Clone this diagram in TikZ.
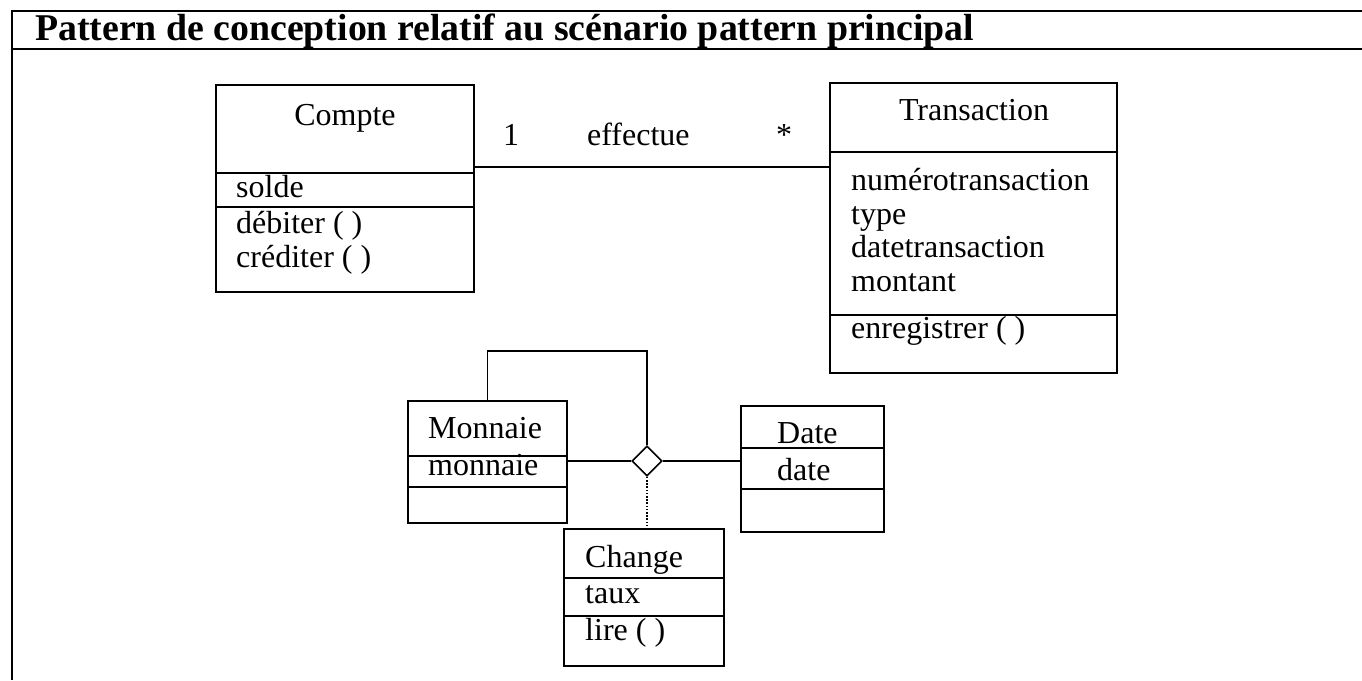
\documentclass[tikz,border=0pt]{standalone}
\usepackage{fontspec}
\setmainfont{Liberation Serif}
\usetikzlibrary{positioning,shapes.geometric}

\begin{document}
\begin{tikzpicture}[x=1pt, y=-1pt,
        classbox/.style={draw, line width=1.6pt, inner sep=0pt, anchor=north west},
        member/.style={anchor=base west, inner sep=0pt, font=\fontsize{32}{34}\selectfont},
        classname/.style={member, anchor=base},
        rule/.style={line width=1.6pt},
        link/.style={line width=1.6pt},
        frame/.style={line width=1.8pt}
]
    \useasboundingbox (0,0) rectangle (1362,680);
    \draw[frame] (1362,11) -- (12,11) -- (12,680);
    \draw[frame] (12,49) -- (1362,49);
    \node[anchor=base west, inner sep=0pt, font=\fontsize{37.8}{42}\selectfont\bfseries] (titre) at (35,40)
        {Pattern de conception relatif au scénario pattern principal};

    \node[classbox, minimum width=258pt, minimum height=207pt] (compte) at (215,84) {};
    \node[classbox, minimum width=287pt, minimum height=290pt] (transaction) at (829,82) {};
    \node[classbox, minimum width=159pt, minimum height=122pt] (monnaie) at (407,400) {};
    \node[classbox, minimum width=143pt, minimum height=126pt] (date) at (740,405) {};
    \node[classbox, minimum width=160pt, minimum height=137pt] (change) at (563,528) {};

    \draw[rule] (compte.west |- 0,173) -- (compte.east |- 0,173);
    \draw[rule] (compte.west |- 0,207) -- (compte.east |- 0,207);
    \draw[rule] (transaction.west |- 0,152) -- (transaction.east |- 0,152);
    \draw[rule] (transaction.west |- 0,315) -- (transaction.east |- 0,315);
    \draw[rule] (monnaie.west |- 0,456) -- (monnaie.east |- 0,456);
    \draw[rule] (monnaie.west |- 0,487) -- (monnaie.east |- 0,487);
    \draw[rule] (date.west |- 0,448) -- (date.east |- 0,448);
    \draw[rule] (date.west |- 0,489) -- (date.east |- 0,489);
    \draw[rule] (change.west |- 0,578) -- (change.east |- 0,578);
    \draw[rule] (change.west |- 0,616) -- (change.east |- 0,616);

    \node[classname] (comptenom) at (345,125) {Compte};
    \node[member] (solde) at (236,197) {solde};
    \node[member] (debiter) at (236,233) {débiter ( )};
    \node[member] (crediter) at (236,267) {créditer ( )};

    \node[classname] (transactionnom) at (974,120) {Transaction};
    \node[member] (numero) at (851,190) {numérotransaction};
    \node[member] (type) at (851,224) {type};
    \node[member] (datetr) at (851,257) {datetransaction};
    \node[member] (montant) at (851,291) {montant};
    \node[member] (enregistrer) at (851,338) {enregistrer ( )};

    \node[member] (monnaienom) at (428,438) {Monnaie};
    \node[member] (monnaieattr) at (428,475) {monnaie};
    \node[member] (datenom) at (777,443) {Date};
    \node[member] (dateattr) at (777,480) {date};
    \node[member] (changenom) at (585,567) {Change};
    \node[member] (taux) at (585,603) {taux};
    \node[member] (lire) at (585,640) {lire ( )};

    \coordinate (assoc) at (0,167);
    \draw[link] (compte.east |- assoc) -- (transaction.west |- assoc);
    \node[member] (mult1) at (503,145) {1};
    \node[member] (effectue) at (587,145) {effectue};
    \node[classname] (multn) at (784,145) {*};

    \node[draw, diamond, line width=1.6pt, minimum width=30pt, minimum height=30pt, inner sep=0pt] (losange) at (647,461) {};
    \draw[link] (monnaie.east |- losange) -- (losange.west);
    \draw[link] (losange.east) -- (date.west |- losange);
    \coordinate (boucle) at (0,351);
    \draw[link] (losange.north) -- (losange.north |- boucle) -| (monnaie.north);
    \draw[link, dash pattern=on 1.6pt off 1.6pt] (losange.south) -- (losange.south |- change.north);
\end{tikzpicture}
\end{document}
